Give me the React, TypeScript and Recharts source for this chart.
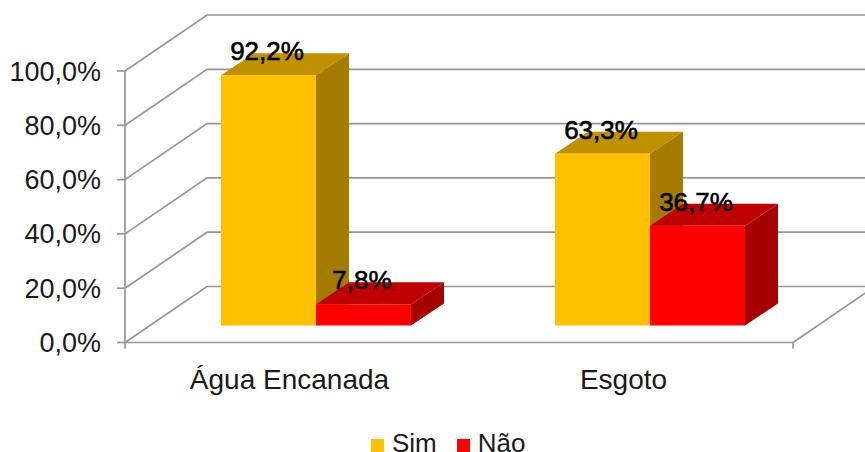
import { BarChart, Bar, XAxis, YAxis, CartesianGrid, Legend, LabelList } from "recharts";

const categories = ["Água Encanada", "Esgoto"];
const simValues = [92.2, 63.3];
const naoValues = [7.8, 36.7];
const yTicks = [0, 20, 40, 60, 80, 100];
const edgeTicks = [0, 1, 2];

const data = categories.map((name, i) => ({ name, sim: simValues[i], nao: naoValues[i] }));

const AXIS_GREY = "#969696";
const TEXT = "#1a1a1a";
const FONT = "'Liberation Sans', Arial, sans-serif";

// oblique projection of the box: how far the back wall sits from the front plane
const WALL_DX = 82;
const WALL_DY = 56;
// bars stand part-way into the floor, and their own depth
const BAR_DX = 24;
const BAR_DY = 17;
const DEPTH_X = 33;
const DEPTH_Y = 22;

const pct = (v: number) => v.toFixed(1).replace(".", ",") + "%";

function WallLine(props: any) {
  const { x1, x2, y1, index } = props;
  return (
    <g fill="none" stroke={AXIS_GREY} strokeWidth={1.7}>
      <path d={`M${x1} ${y1}L${x1 + WALL_DX} ${y1 - WALL_DY}L${x2 + WALL_DX} ${y1 - WALL_DY}`} />
      {index === 0 || y1 > 300 ? (
        <path d={`M${x2} ${y1}L${x2 + WALL_DX} ${y1 - WALL_DY}`} />
      ) : null}
    </g>
  );
}

function box3d(front: string, top: string, side: string) {
  return function Box(props: any) {
    const { x, y, width, height } = props;
    const l = x + BAR_DX;
    const t = y - BAR_DY;
    const r = l + width;
    const b = t + height;
    return (
      <g>
        <path d={`M${l} ${t}L${l + DEPTH_X} ${t - DEPTH_Y}L${r + DEPTH_X} ${t - DEPTH_Y}L${r} ${t}Z`} fill={top} />
        <path d={`M${r} ${t}L${r + DEPTH_X} ${t - DEPTH_Y}L${r + DEPTH_X} ${b - DEPTH_Y}L${r} ${b}Z`} fill={side} />
        <rect x={l} y={t} width={width} height={height} fill={front} />
      </g>
    );
  };
}

function ValueLabel(props: any) {
  const { x, y, width, value } = props;
  return (
    <text
      x={x + width / 2 + BAR_DX - 1.5}
      y={y - BAR_DY - 15}
      textAnchor="middle"
      fontFamily={FONT}
      fontSize={26}
      fill="#000"
      stroke="#000"
      strokeWidth={0.6}
    >
      {pct(value)}
    </text>
  );
}

const legendText = (value: string) => (
  <span style={{ color: TEXT, marginLeft: 4, marginRight: 10 }}>{value}</span>
);

export default function App() {
  return (
    <div style={{ position: "absolute", left: 0, top: 0, width: 865, height: 452, overflow: "hidden" }}>
      <BarChart
        width={865}
        height={452}
        data={data}
        margin={{ top: 71, right: 72, left: 0, bottom: 0 }}
        barCategoryGap={72}
        barGap={0}
        style={{ fontFamily: FONT }}
      >
        <CartesianGrid vertical={false} horizontal={WallLine as any} />
        {/* tick marks sit on the category boundaries, so they get their own numeric axis */}
        <XAxis
          type="number"
          domain={[0, 2]}
          ticks={edgeTicks}
          tick={() => <g />}
          height={1}
          tickSize={6}
          axisLine={{ stroke: AXIS_GREY, strokeWidth: 1.7 }}
          tickLine={{ stroke: AXIS_GREY, strokeWidth: 1.7 }}
        />
        <XAxis
          xAxisId="labels"
          dataKey="name"
          axisLine={false}
          tickLine={false}
          height={90.5}
          tickMargin={20}
          tick={{ fontSize: 28, fill: TEXT, dx: -2.5 }}
        />
        <YAxis
          domain={[0, 100]}
          ticks={yTicks}
          width={125}
          tickSize={8}
          tickMargin={16}
          tickFormatter={pct}
          tick={{ fontSize: 27, fill: TEXT }}
          axisLine={{ stroke: AXIS_GREY, strokeWidth: 1.7 }}
          tickLine={{ stroke: AXIS_GREY, strokeWidth: 1.7 }}
        />
        <Legend
          iconType="square"
          iconSize={13}
          align="left"
          itemSorter={null}
          formatter={legendText}
          wrapperStyle={{ left: 371, width: 300, bottom: 0, fontSize: 26, lineHeight: "18px", textAlign: "left" }}
        />
        <Bar
          xAxisId="labels"
          dataKey="sim"
          name="Sim"
          fill="#FFC000"
          isAnimationActive={false}
          shape={box3d("#FFC000", "#BF9000", "#A67C00")}
        >
          <LabelList dataKey="sim" content={ValueLabel} />
        </Bar>
        <Bar
          xAxisId="labels"
          dataKey="nao"
          name="Não"
          fill="#FF0000"
          isAnimationActive={false}
          shape={box3d("#FF0000", "#BF0000", "#A60000")}
        >
          <LabelList dataKey="nao" content={ValueLabel} />
        </Bar>
      </BarChart>
    </div>
  );
}
